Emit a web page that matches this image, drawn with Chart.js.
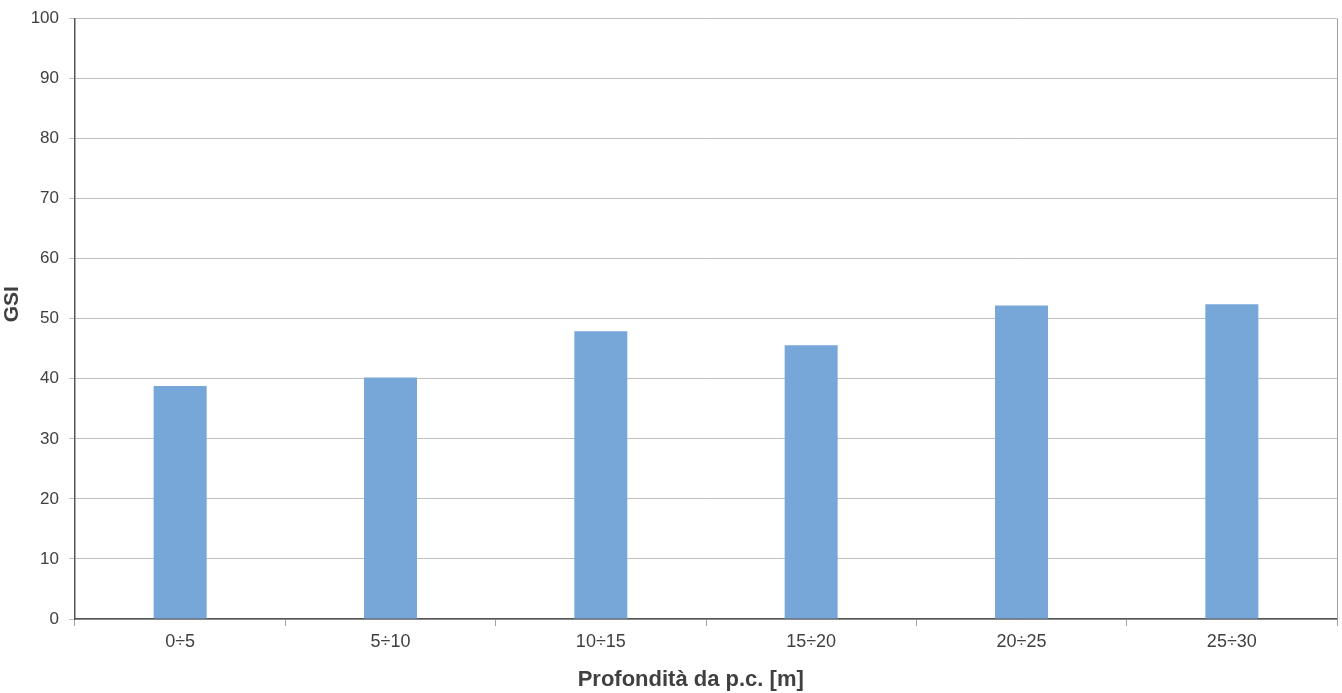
<!DOCTYPE html>
<html>
<head>
<meta charset="utf-8">
<title>GSI</title>
<script src="https://cdn.jsdelivr.net/npm/chart.js@4.4.0/dist/chart.umd.min.js"></script>
<style>
  html, body { margin: 0; padding: 0; background: #fff; }
  #wrap { width: 1342px; height: 693px; }
</style>
</head>
<body>
<div id="wrap"><canvas id="gsiChart" width="1342" height="693"></canvas></div>
<script>
// profondità (classi) e valori medi GSI
var classi = ['0÷5', '5÷10', '10÷15', '15÷20', '20÷25', '25÷30'];
var valoriGSI = [38.8, 40.2, 47.9, 45.6, 52.2, 52.4];
var yTicks = [0, 10, 20, 30, 40, 50, 60, 70, 80, 90, 100];

var testo = '#404040';

// bordo destro dell'area del grafico
var bordoDestro = {
  id: 'bordoDestro',
  afterDraw: function(chart) {
    var a = chart.chartArea, c = chart.ctx;
    c.save();
    c.strokeStyle = '#a0a0a0';
    c.lineWidth = 1;
    c.beginPath();
    c.moveTo(Math.round(a.right) + 0.5, a.top);
    c.lineTo(Math.round(a.right) + 0.5, a.bottom);
    c.stroke();
    c.restore();
  }
};

var ctx = document.getElementById('gsiChart');
var grafico = new Chart(ctx, {
  type: 'bar',
  data: {
    labels: classi,
    datasets: [{
      label: 'GSI',
      data: valoriGSI,
      backgroundColor: '#77a7d8',
      borderWidth: 0,
      barPercentage: 0.252,
      categoryPercentage: 1.0
    }]
  },
  options: {
    responsive: false,
    animation: false,
    layout: { padding: { top: 8, right: 5, left: 0, bottom: 0 } },
    plugins: {
      legend: { display: false },
      tooltip: { enabled: false }
    },
    scales: {
      x: {
        grid: {
          offset: true,
          drawOnChartArea: false,
          drawTicks: true,
          tickLength: 7,
          color: '#a0a0a0'
        },
        border: { color: '#555555', width: 1.5 },
        ticks: {
          color: testo,
          font: { family: 'Liberation Sans, Arial', size: 18 },
          padding: 5
        },
        title: {
          display: true,
          text: 'Profondità da p.c. [m]     ',
          color: testo,
          font: { family: 'Liberation Sans, Arial', size: 22, weight: 'bold' },
          padding: { top: 10, bottom: 0 }
        },
        afterFit: function(s) { s.height = 74; }
      },
      y: {
        min: 0,
        max: 100,
        afterBuildTicks: function(s) {
          s.ticks = yTicks.map(function(v) { return { value: v }; });
        },
        grid: {
          color: '#bfbfbf',
          lineWidth: 1,
          drawTicks: true,
          tickLength: 6
        },
        border: { color: '#555555', width: 1.5 },
        ticks: {
          color: testo,
          font: { family: 'Liberation Sans, Arial', size: 17, lineHeight: 1.0 },
          padding: 10
        },
        title: {
          display: true,
          text: '     GSI',
          color: testo,
          font: { family: 'Liberation Sans, Arial', size: 21, weight: 'bold' },
          padding: { top: 0, bottom: 2 }
        },
        afterFit: function(s) { s.width = 75; }
      }
    }
  },
  plugins: [bordoDestro]
});
</script>
</body>
</html>
